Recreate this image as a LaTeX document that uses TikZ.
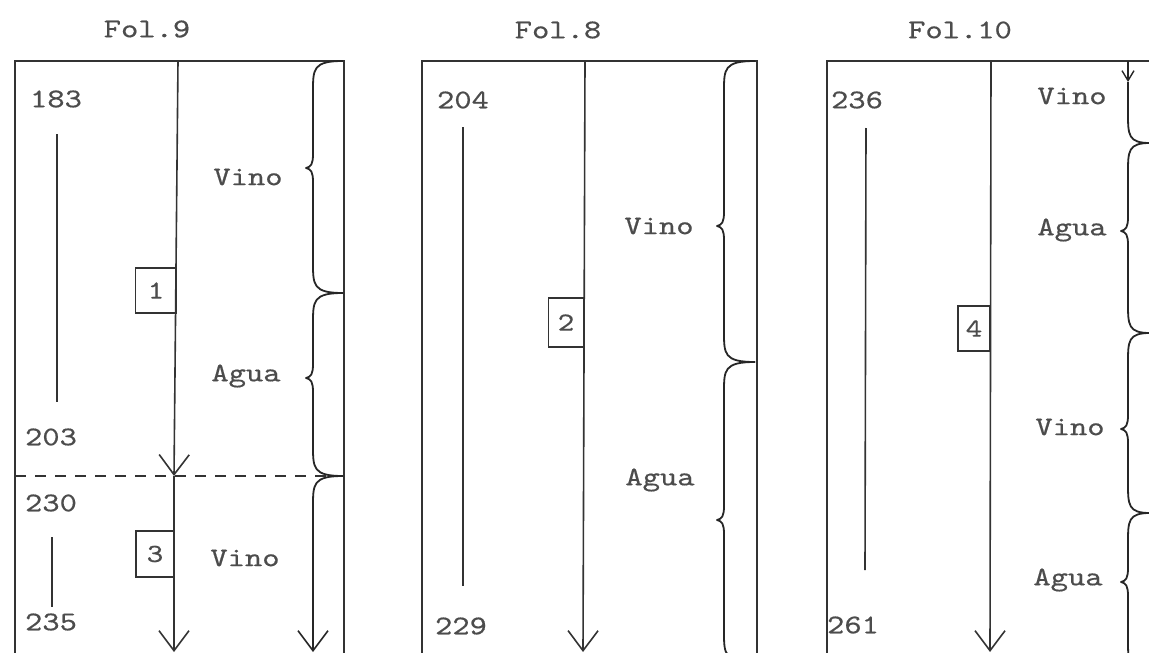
\documentclass[tikz,border=0pt]{standalone}
\usepackage{fontspec}
\newfontfamily\tw{lmmono10-regular}[Extension=.otf, FakeStretch=1.22, FakeBold=0.5]
\usetikzlibrary{arrows.meta}
\newcommand\curlybr[5]{% border x, stem x, top y, bottom y, tip y
  \draw[brc] ({#1},{#3}) .. controls ({#2},{#3}) and ({#2},{#3+8}) .. ({#2},{#3+30})
    -- ({#2},{#5-14}) .. controls ({#2},{#5-4}) and ({#2-2},{#5-1}) .. ({#2-7},{#5})
    .. controls ({#2-2},{#5+1}) and ({#2},{#5+4}) .. ({#2},{#5+14})
    -- ({#2},{#4-30}) .. controls ({#2},{#4-8}) and ({#2},{#4}) .. ({#1},{#4});}
\begin{document}
\begin{tikzpicture}[x=1pt,y=-1pt,
  ln/.style={line width=1.6pt, draw=black!80},
  lbl/.style={font=\tw\fontsize{27}{30}\selectfont, text=black!70, inner sep=0pt},
  tag/.style={draw=black!80, line width=1.5pt, inner sep=0pt, font=\tw\fontsize{26}{28}\selectfont, text=black!70},
  brc/.style={line width=1.8pt, draw=black!85, line join=round},
  bigarrow/.style={-{Straight Barb[length=20pt,width=30pt,line width=1.6pt]}},
  smallarrow/.style={-{Straight Barb[length=10pt,width=12pt,line width=1.4pt]}}
]
\useasboundingbox (0,0) rectangle (1149,653);
\clip (0,0) rectangle (1149,653);

% ---------- Panel 1 : Fol.9 ----------
\node[lbl] (t1) at (147,29) {Fol.9};
\draw[ln] (15,662) -- (15,61) -- (344,61) -- (344,662);
\coordinate (m1a) at (178,61);
\coordinate (m1b) at (174,476);
\coordinate (m1c) at (174,652);
\draw[ln, bigarrow] (m1a) -- (m1b);
\draw[ln, bigarrow] (m1b) -- (m1c);
\draw[ln, line width=1.3pt, dash pattern=on 11pt off 9pt] (15,476) -- (344,476);
\node[lbl] (n183) at (56,99) {183};
\node[lbl] (n203) at (51,437) {203};
\node[lbl] (n230) at (51,503) {230};
\node[lbl] (n235) at (51,622) {235};
\coordinate (l1a) at (57,134);
\coordinate (l1b) at (57,402);
\draw[ln] (l1a) -- (l1b);
\coordinate (l2a) at (52,537);
\coordinate (l2b) at (52,607);
\draw[ln] (l2a) -- (l2b);
\node[tag, minimum width=41pt, minimum height=45pt] (b1) at (156,290.5) {1};
\node[tag, minimum width=38pt, minimum height=46pt] (b3) at (155,554) {3};
\node[lbl] (v1) at (248,177) {Vino};
\node[lbl] (a1) at (246,376) {Agua};
\node[lbl] (v1b) at (245,558) {Vino};
\curlybr{343}{313}{61}{293}{168}
\curlybr{343}{313}{293}{476}{378}
\coordinate (s1a) at (343,476);
\coordinate (s1b) at (313,652);
\draw[brc, bigarrow] (s1a) .. controls (313,476) and (313,484) .. (313,506) -- (s1b);

% ---------- Panel 2 : Fol.8 ----------
\node[lbl] (t2) at (558,30) {Fol.8};
\draw[ln] (422,662) -- (422,61) -- (757,61) -- (757,662);
\coordinate (m2a) at (585,61);
\coordinate (m2b) at (583,652);
\draw[ln, bigarrow] (m2a) -- (m2b);
\node[lbl] (n204) at (463,100) {204};
\node[lbl] (n229) at (461,626) {229};
\coordinate (l3a) at (463,127);
\coordinate (l3b) at (463,586);
\draw[ln] (l3a) -- (l3b);
\node[tag, minimum width=35pt, minimum height=49pt] (b2) at (566,322.5) {2};
\node[lbl] (v2) at (659,226) {Vino};
\node[lbl] (a2) at (660,480) {Agua};
\curlybr{755}{724}{61}{362}{226}
\curlybr{755}{724}{362}{662}{520}

% ---------- Panel 3 : Fol.10 ----------
\node[lbl] (t3) at (960,30) {Fol.10};
\draw[ln] (827,662) -- (827,61) -- (1160,61);
\coordinate (m3a) at (991,61);
\coordinate (m3b) at (990,652);
\draw[ln, bigarrow] (m3a) -- (m3b);
\node[lbl] (n236) at (857,100) {236};
\node[lbl] (n261) at (853,625) {261};
\coordinate (l4a) at (866,128);
\coordinate (l4b) at (865,570);
\draw[ln] (l4a) -- (l4b);
\node[tag, minimum width=32pt, minimum height=45pt] (b4) at (974,328.5) {4};
\node[lbl] (v3) at (1072,96) {Vino};
\node[lbl] (a3) at (1072,230) {Agua};
\node[lbl] (v3b) at (1070,427) {Vino};
\node[lbl] (a3b) at (1068,580) {Agua};
\coordinate (s3a) at (1128,61);
\coordinate (s3b) at (1128,82);
\coordinate (s3c) at (1150,143);
\draw[brc, smallarrow] (s3a) -- (s3b);
\draw[brc] (s3b) -- (1128,113) .. controls (1128,135) and (1128,143) .. (s3c);
\curlybr{1150}{1128}{143}{333}{231}
\curlybr{1150}{1128}{333}{513}{429}
\curlybr{1150}{1128}{513}{670}{582}
\end{tikzpicture}
\end{document}
